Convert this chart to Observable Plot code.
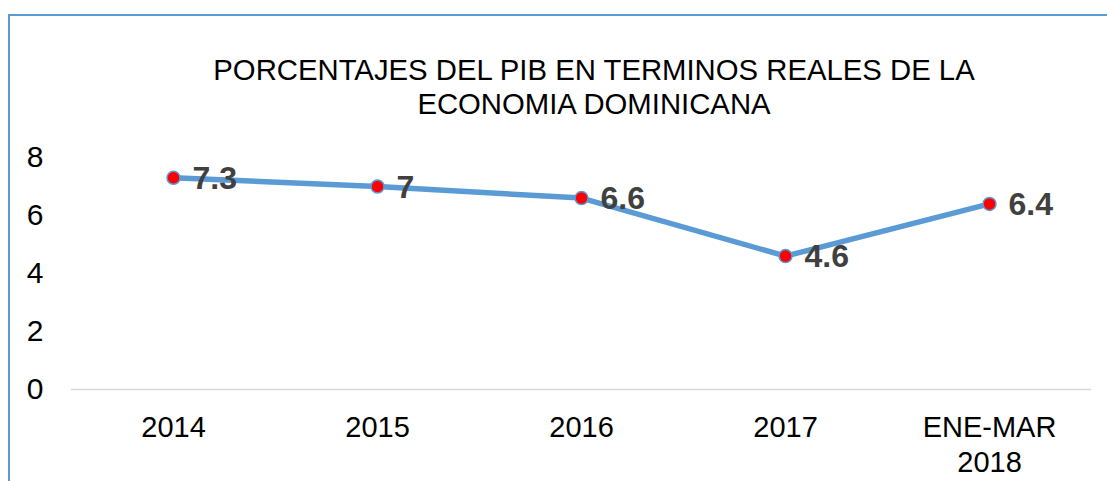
<!DOCTYPE html>
<html>
<head>
<meta charset="utf-8">
<script src="https://cdn.jsdelivr.net/npm/d3@7"></script>
<script src="https://cdn.jsdelivr.net/npm/@observablehq/plot@0.6"></script>
<style>
  html, body { margin: 0; padding: 0; background: #fff; overflow: hidden; width: 1107px; height: 481px; }
  body { position: relative; font-family: "Liberation Sans", Arial, sans-serif; }
  #frame { position: absolute; left: 8px; top: 14px; width: 1300px; height: 600px;
           border-left: 2px solid #5b9bd5; border-top: 2px solid #5b9bd5; }
  #title { position: absolute; left: 0; width: 1188px; top: 53px; text-align: center;
           font-size: 29.3px; line-height: 34px; color: #000; }
  #chart { position: absolute; left: 0; top: 140px; }
</style>
</head>
<body>
<div id="frame"></div>
<div id="title">PORCENTAJES DEL PIB EN TERMINOS REALES DE LA<br>ECONOMIA DOMINICANA</div>
<div id="chart"></div>
<script>
const categories = ["2014", "2015", "2016", "2017", "ENE-MAR\n2018"];
const values = [7.3, 7, 6.6, 4.6, 6.4];
const valueLabels = ["7.3", "7", "6.6", "4.6", "6.4"];
const yTicks = [0, 2, 4, 6, 8];

const data = categories.map((c, i) => ({cat: c, value: values[i], label: valueLabels[i]}));

const chart = Plot.plot({
  width: 1107,
  height: 341,
  marginTop: 17,
  marginBottom: 92,
  marginLeft: 71,
  marginRight: 16,
  style: {fontFamily: "'Liberation Sans', Arial, sans-serif", background: "transparent", overflow: "visible"},
  x: {type: "point", domain: categories, padding: 0.5},
  y: {domain: [0, 8]},
  marks: [
    Plot.ruleY([0], {stroke: "#d9d9d9", strokeWidth: 1.5}),
    Plot.axisY({ticks: yTicks, tickSize: 0, tickPadding: 28, fontSize: 30, fill: "#000", label: null}),
    Plot.axisX({tickSize: 0, tickPadding: 23, fontSize: 29, lineHeight: 1.2, fill: "#000", label: null}),
    Plot.line(data, {x: "cat", y: "value", stroke: "#5b9bd5", strokeWidth: 5.5, strokeLinejoin: "round", strokeLinecap: "round"}),
    Plot.dot(data, {x: "cat", y: "value", r: 6.5, fill: "#ff0000", stroke: "#5b9bd5", strokeWidth: 1.5}),
    Plot.text(data, {x: "cat", y: "value", text: "label", dx: 19, dy: 1, textAnchor: "start", fontSize: 32, fontWeight: "bold", fill: "#404040"})
  ]
});
document.getElementById("chart").appendChild(chart);
</script>
</body>
</html>
